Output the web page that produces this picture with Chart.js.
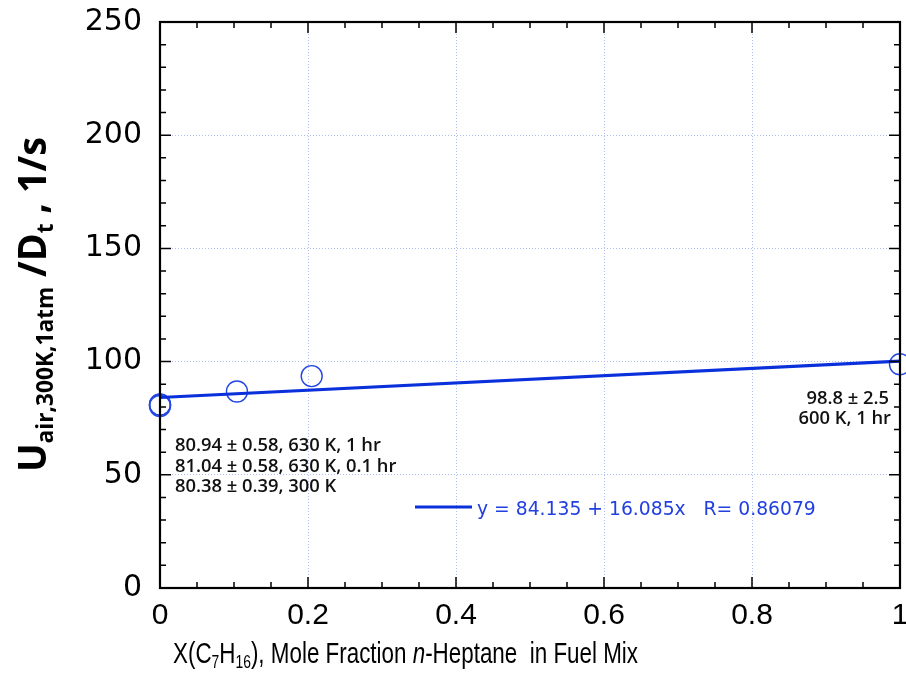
<!DOCTYPE html>
<html>
<head>
<meta charset="utf-8">
<script src="https://cdn.jsdelivr.net/npm/chart.js@4.4.0/dist/chart.umd.min.js"></script>
<style>
  html, body { margin: 0; padding: 0; background: #fff; }
</style>
</head>
<body>
<canvas id="chart" width="906" height="686"></canvas>
<script>
// data
const fracHeptane = [0, 0, 0, 0.104, 0.205, 1];
const strainRate = [80.94, 81.04, 80.38, 86.8, 93.6, 98.8];
const fitX = [0, 1];
const fitY = [84.135, 100.22];
const xTicks = [0, 0.2, 0.4, 0.6, 0.8, 1];
const yTicks = [0, 50, 100, 150, 200, 250];
const notesLeft = ["80.94 ± 0.58, 630 K, 1 hr", "81.04 ± 0.58, 630 K, 0.1 hr", "80.38 ± 0.39, 300 K"];
const notesRight = ["98.8 ± 2.5", "600 K, 1 hr"];
const fitLabel = "y = 84.135 + 16.085x   R= 0.86079";

const BLUE = "#0a30dc";
const CIRCLE = "#2447e4";
const GRID = "#aebff2";

// pick a font size so that text spans a given width
function fitSize(ctx, text, width, font) {
  ctx.font = font.replace("SZ", "100px");
  return 100 * width / ctx.measureText(text).width;
}

// draw text made of pieces (subscripts, italics), squeezed to a given width
function drawParts(ctx, parts, font, size, width, x0, y0) {
  let total = 0;
  for (const p of parts) {
    ctx.font = p[3] + font.replace("SZ", (size * p[1]) + "px");
    total += ctx.measureText(p[0]).width;
  }
  ctx.save();
  ctx.translate(x0, y0);
  ctx.scale(width / total, 1);
  let x = 0;
  ctx.fillStyle = "#000";
  ctx.textAlign = "left";
  ctx.textBaseline = "alphabetic";
  for (const p of parts) {
    ctx.font = p[3] + font.replace("SZ", (size * p[1]) + "px");
    ctx.fillText(p[0], x, p[2]);
    x += ctx.measureText(p[0]).width;
  }
  ctx.restore();
}

const decorations = {
  id: "decorations",
  afterDraw(chart) {
    const ctx = chart.ctx;
    const a = chart.chartArea;
    const xs = chart.scales.x, ys = chart.scales.y;
    ctx.save();

    // inward ticks on all four sides
    ctx.strokeStyle = "#000";
    ctx.lineWidth = 1.5;
    ctx.beginPath();
    for (let i = 0; i <= 25; i++) {
      const v = i * 10;
      const len = v % 50 === 0 ? 11 : 6;
      const py = ys.getPixelForValue(v);
      ctx.moveTo(a.left, py); ctx.lineTo(a.left + len, py);
      ctx.moveTo(a.right, py); ctx.lineTo(a.right - len, py);
    }
    for (let i = 0; i <= 20; i++) {
      const len = i % 4 === 0 ? 11 : 6;
      const px = xs.getPixelForValue(i * 0.05);
      ctx.moveTo(px, a.bottom); ctx.lineTo(px, a.bottom - len);
      ctx.moveTo(px, a.top); ctx.lineTo(px, a.top + len);
    }
    ctx.stroke();
    ctx.lineWidth = 2.2;
    ctx.strokeRect(a.left, a.top, a.right - a.left, a.bottom - a.top);

    // notes next to the points
    ctx.fillStyle = "#111";
    const nf = "600 SZ 'Open Sans', sans-serif";
    const ns = fitSize(ctx, notesLeft[0], 206, nf);
    ctx.font = nf.replace("SZ", ns + "px");
    ctx.textAlign = "left";
    ctx.textBaseline = "alphabetic";
    notesLeft.forEach((t, i) => ctx.fillText(t, 175, 451 + i * 20.5));
    ctx.textAlign = "right";
    ctx.fillText(notesRight[0], 889, 404);
    ctx.fillText(notesRight[1], 891, 424);

    // fit legend
    ctx.strokeStyle = BLUE;
    ctx.lineWidth = 3;
    ctx.beginPath();
    ctx.moveTo(415, 507); ctx.lineTo(472, 507);
    ctx.stroke();
    const lf = "400 SZ 'DejaVu Sans'";
    ctx.font = lf.replace("SZ", fitSize(ctx, fitLabel, 339, lf) + "px");
    ctx.fillStyle = "#2240e0";
    ctx.textAlign = "left";
    ctx.fillText(fitLabel, 477, 515);

    // x axis title with subscripts and italic n
    const xf = "SZ 'Liberation Sans', sans-serif";
    const xparts = [
      ["X(C", 1, 0, ""], ["7", 0.62, 5, ""], ["H", 1, 0, ""], ["16", 0.62, 5, ""],
      ["), Mole Fraction ", 1, 0, ""], ["n", 1, 0, "italic "], ["-Heptane  in Fuel Mix", 1, 0, ""]
    ];
    drawParts(ctx, xparts, xf, 29, 465, 173, 663);

    // y axis title
    const yf = "bold SZ 'Open Sans', sans-serif";
    const yparts = [
      ["U", 1, 0, ""], ["air,300K,1atm", 0.6, 7, ""], [" /D", 1, 0, ""], ["t", 0.6, 7, ""], [" , 1/s", 1, 0, ""]
    ];
    ctx.save();
    ctx.translate(46, 472);
    ctx.rotate(-Math.PI / 2);
    drawParts(ctx, yparts, yf, 40, 335, 0, 0);
    ctx.restore();

    ctx.restore();
  }
};

new Chart(document.getElementById("chart"), {
  type: "scatter",
  data: {
    datasets: [
      {
        type: "line",
        data: fitX.map((x, i) => ({ x: x, y: fitY[i] })),
        borderColor: BLUE,
        borderWidth: 3.2,
        pointRadius: 0,
        fill: false
      },
      {
        data: fracHeptane.map((x, i) => ({ x: x, y: strainRate[i] })),
        pointStyle: "circle",
        pointRadius: 10.5,
        pointBorderWidth: 1.4,
        pointBorderColor: CIRCLE,
        pointBackgroundColor: "rgba(0,0,0,0)",
        clip: false
      }
    ]
  },
  options: {
    responsive: false,
    animation: false,
    layout: { autoPadding: false, padding: { top: 22, right: 6, left: 0, bottom: 0 } },
    plugins: { legend: { display: false }, tooltip: { enabled: false } },
    scales: {
      x: {
        type: "linear",
        min: 0,
        max: 1,
        afterBuildTicks: s => { s.ticks = xTicks.map(v => ({ value: v })); },
        afterFit: s => { s.height = 98; s.paddingLeft = 0; s.paddingRight = 0; },
        grid: { color: GRID, lineWidth: 1, drawTicks: false },
        border: { display: false, dash: [1, 2] },
        ticks: {
          color: "#000",
          padding: 10,
          maxRotation: 0,
          callback: v => String(v),
          font: { family: "'Liberation Sans', sans-serif", size: 30 }
        }
      },
      y: {
        type: "linear",
        min: 0,
        max: 250,
        afterBuildTicks: s => { s.ticks = yTicks.map(v => ({ value: v })); },
        afterFit: s => { s.width = 160; s.paddingTop = 0; s.paddingBottom = 0; },
        grid: { color: GRID, lineWidth: 1, drawTicks: false },
        border: { display: false, dash: [1, 2] },
        ticks: {
          color: "#000",
          padding: 18,
          font: { family: "'DejaVu Sans', sans-serif", size: 30 }
        }
      }
    }
  },
  plugins: [decorations]
});
</script>
</body>
</html>
